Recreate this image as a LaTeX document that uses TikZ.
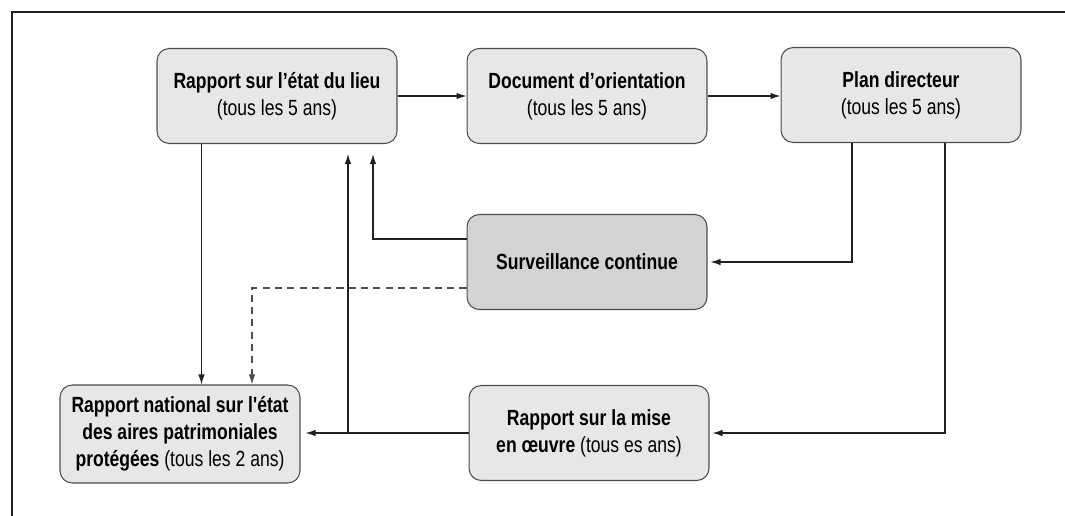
\documentclass[tikz,border=0pt]{standalone}
\usepackage{fontspec}
\newfontfamily\diagfont{Liberation Sans}[FakeStretch=0.8]
\usetikzlibrary{arrows.meta}
\definecolor{boxfill}{HTML}{E6E7E8}
\definecolor{boxdark}{HTML}{D1D3D4}
\definecolor{boxline}{HTML}{4D4D4F}
\definecolor{inkline}{HTML}{231F20}
\begin{document}
\begin{tikzpicture}[x=0.02cm, y=-0.02cm, >={Latex[length=2mm,width=1.3mm]}]
        \tikzstyle{stage}=[draw=boxline, fill=boxfill, line width=0.6pt, rounded corners=7pt, minimum width=4.8cm, minimum height=1.9cm, align=center, font=\diagfont\fontsize{12.5}{15.5}\selectfont]
        \tikzstyle{stagedark}=[stage, fill=boxdark]
        \tikzstyle{link}=[->, draw=inkline, line width=0.7pt]
        \useasboundingbox (0,0) rectangle (1065,516);
        \draw[inkline, line width=0.6pt] (12,516) -- (12,12) -- (1065,12);
        % top row
        \node[stage] (etat) at (277,96) {\textbf{Rapport sur l’état du lieu}\\(tous les 5 ans)};
        \node[stage] (orient) at (587,96) {\textbf{Document d’orientation}\\(tous les 5 ans)};
        \node[stage] (plan) at (901,95) {\textbf{Plan directeur}\\(tous les 5 ans)};
        % middle and bottom
        \node[stagedark] (surv) at (587,262) {\textbf{Surveillance continue}};
        \node[stage] (mise) at (589,433) {\textbf{Rapport sur la mise}\\\textbf{en œuvre} (tous es ans)};
        \node[stage, minimum height=1.96cm] (natio) at (180,434) {\textbf{Rapport national sur l'état}\\\textbf{des aires patrimoniales}\\\textbf{protégées} (tous les 2 ans)};
        \draw[link] (etat) -- (orient);
        \draw[link] (orient.east) -- (orient.east -| plan.west);
        \draw[link] ([xshift=0.9cm]etat.south west) -- ([xshift=0.9cm]etat.south west |- natio.north);
        \draw[link, dashed, draw=boxline, dash pattern=on 4pt off 3pt] ([yshift=-0.52cm]surv.west) -| ([xshift=1.44cm]natio.north);
        \draw[link, shorten >=0.1cm] (mise.west) -- (mise.west -| natio.east);
        \draw[link, shorten >=0.2cm] ([xshift=1.42cm]etat.south |- mise.west) -- ([xshift=1.42cm]etat.south);
        \draw[link, shorten >=0.2cm] ([yshift=0.46cm]surv.west) -| ([xshift=1.92cm]etat.south);
        \draw[link, shorten >=0.06cm] ([xshift=-0.98cm]plan.south) |- (surv.east);
        \draw[link, shorten >=0.06cm] ([xshift=0.88cm]plan.south) |- (mise.east);
      \end{tikzpicture}
\end{document}
